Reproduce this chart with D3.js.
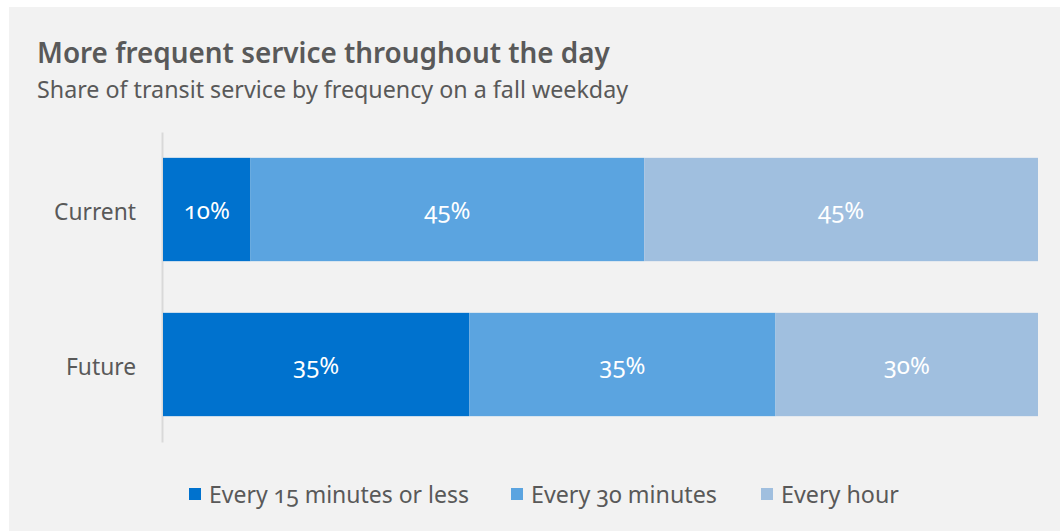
<!DOCTYPE html>
<html>
<head>
<meta charset="utf-8">
<script src="https://cdn.jsdelivr.net/npm/d3@7"></script>
<style>
  html, body { margin: 0; padding: 0; background: #ffffff; }
  svg { display: block; }
  text { font-family: "Noto Sans", "Open Sans", sans-serif; font-feature-settings: "onum" 1; font-variant-numeric: oldstyle-nums; }
</style>
</head>
<body>
<svg id="chart" width="1060" height="531"></svg>
<script>
// Rows and frequency bands
const categories = ["Current", "Future"];
const seriesNames = ["Every 15 minutes or less", "Every 30 minutes", "Every hour"];
const every15 = [10, 35];
const every30 = [45, 35];
const everyHour = [45, 30];
const seriesColors = ["#0072CE", "#5BA4E0", "#A0BFDF"];

const svg = d3.select("#chart");
const W = 1060, H = 531;
const FONT = "'Noto Sans', 'Open Sans', sans-serif";

// shrink or grow a text's font size so it spans the given width
function fit(sel, width) {
  const node = sel.node();
  const fs = parseFloat(sel.attr("font-size"));
  const w = node.getComputedTextLength();
  if (w > 0) sel.attr("font-size", (fs * width / w).toFixed(2));
  return sel;
}

// panel background
svg.append("rect").attr("x", 9).attr("y", 7).attr("width", W - 9).attr("height", H - 7)
  .attr("fill", "#f2f2f2");

// title block
fit(svg.append("text").attr("x", 37).attr("y", 63)
  .attr("font-size", 24).attr("font-weight", 600).attr("fill", "#595959")
  .text("More frequent service throughout the day"), 573);
fit(svg.append("text").attr("x", 37).attr("y", 98)
  .attr("font-size", 20).attr("fill", "#595959")
  .text("Share of transit service by frequency on a fall weekday"), 591);

// stacked layout
const rows = categories.map((c, i) => ({ cat: c, s0: every15[i], s1: every30[i], s2: everyHour[i] }));
const layers = d3.stack().keys(["s0", "s1", "s2"])(rows);

const x = d3.scaleLinear().domain([0, 100]).range([163, 1038]);
const y = d3.scaleBand().domain(categories).range([132, 442]).paddingInner(1 / 3).paddingOuter(1 / 6);

// category axis
const yAxis = d3.axisLeft(y).tickSize(0).tickPadding(26);
const gy = svg.append("g").attr("transform", "translate(162,0)").call(yAxis);
gy.select(".domain").attr("stroke", "#d9d9d9").attr("stroke-width", 2);
gy.selectAll(".tick text").attr("font-size", 22).attr("fill", "#595959")
  .attr("dy", "0.45em").style("font-family", FONT);
fit(gy.select(".tick text"), 82);
gy.selectAll(".tick text").attr("font-size", gy.select(".tick text").attr("font-size"));

// bars
const g = svg.append("g");
layers.forEach((layer, k) => {
  g.selectAll(null).data(layer).enter().append("rect")
    .attr("x", d => x(d[0]))
    .attr("y", d => y(d.data.cat))
    .attr("width", d => x(d[1]) - x(d[0]))
    .attr("height", y.bandwidth())
    .attr("fill", seriesColors[k]);
  g.selectAll(null).data(layer).enter().append("text")
    .attr("x", d => (x(d[0]) + x(d[1])) / 2)
    .attr("y", d => y(d.data.cat) + y.bandwidth() / 2 + 9)
    .attr("text-anchor", "middle")
    .attr("font-size", 24).attr("fill", "#ffffff")
    .text(d => (d[1] - d[0]) + "%");
});

// legend
const legendX = [189, 511, 761];
const legendW = [260, 186, 118];
const lg = svg.append("g");
seriesNames.forEach((name, k) => {
  lg.append("rect").attr("x", legendX[k]).attr("y", 488).attr("width", 12).attr("height", 12)
    .attr("fill", seriesColors[k]);
  fit(lg.append("text").attr("x", legendX[k] + 20).attr("y", 503)
    .attr("font-size", 21).attr("fill", "#595959").text(name), legendW[k]);
});
</script>
</body>
</html>
